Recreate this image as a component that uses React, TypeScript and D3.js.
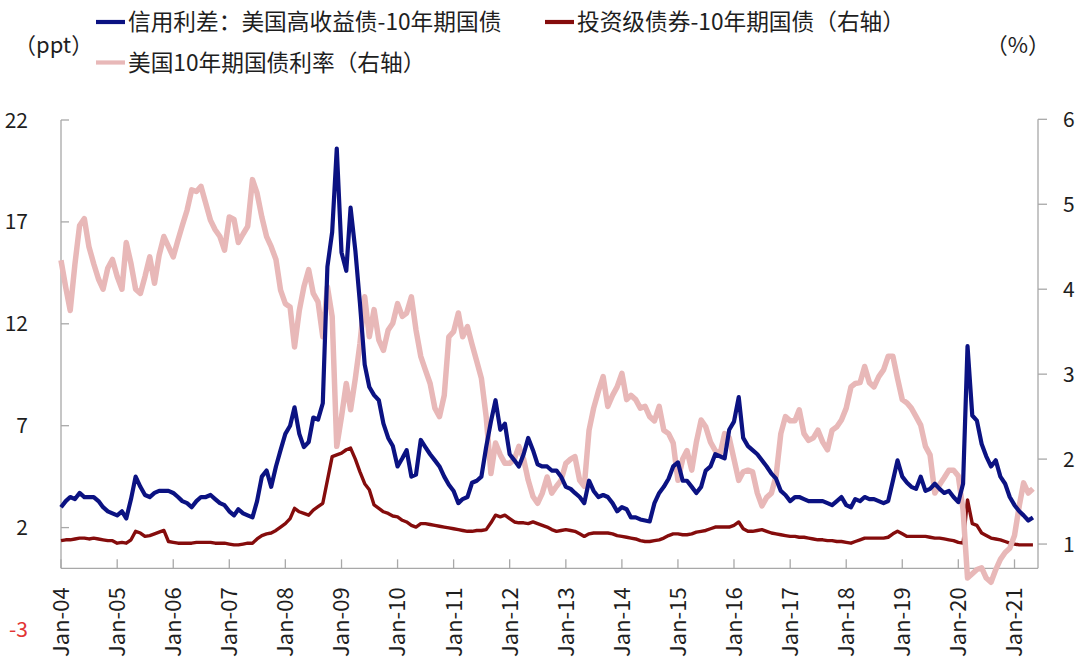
import React from 'react';
import * as d3 from 'd3';

// Monthly observations, Jan-2004 .. May-2021
const months: Date[] = d3.timeMonth.range(new Date(2004, 0, 1), new Date(2021, 5, 1));

const xTickLabels = ['Jan-04','Jan-05','Jan-06','Jan-07','Jan-08','Jan-09','Jan-10','Jan-11','Jan-12','Jan-13','Jan-14','Jan-15','Jan-16','Jan-17','Jan-18','Jan-19','Jan-20','Jan-21'];
const leftTicks = [22, 17, 12, 7, 2];
const leftMinLabel = -3;
const rightTicks = [6, 5, 4, 3, 2, 1];

// 信用利差：美国高收益债-10年期国债 (ppt, left axis)
const hySpread = [
  3.0, 3.3, 3.5, 3.4, 3.7, 3.5, 3.5, 3.5, 3.3, 3.0, 2.8, 2.7,
  2.6, 2.8, 2.45, 3.4, 4.5, 4.0, 3.6, 3.5, 3.7, 3.8, 3.8, 3.8,
  3.7, 3.5, 3.3, 3.2, 3.0, 3.3, 3.5, 3.5, 3.6, 3.4, 3.2, 3.1,
  2.8, 2.6, 2.9, 2.7, 2.6, 2.5, 3.3, 4.5, 4.8, 4.0, 5.0, 5.8,
  6.6, 7.0, 7.9, 6.6, 5.95, 6.2, 7.4, 7.3, 8.1, 14.8, 16.5, 20.6,
  15.5, 14.6, 17.7, 15.6, 13.0, 10.0, 8.9, 8.5, 8.25, 7.1, 6.4, 6.0,
  5.0, 5.4, 5.8, 4.5, 4.6, 6.3, 5.95, 5.6, 5.3, 5.0, 4.5, 4.1,
  3.8, 3.2, 3.4, 3.5, 4.2, 4.3, 4.5, 5.95, 7.2, 8.25, 6.8, 7.1,
  5.6, 5.3, 5.0, 5.6, 6.4, 5.8, 5.1, 5.0, 5.0, 4.8, 4.8, 4.5,
  4.0, 3.9, 3.7, 3.5, 3.2, 4.3, 3.8, 3.5, 3.6, 3.5, 3.2, 2.8,
  3.0, 2.9, 2.5, 2.5, 2.4, 2.35, 2.3, 3.2, 3.7, 4.0, 4.4, 5.0,
  5.2, 4.3, 4.3, 4.0, 3.7, 4.0, 4.8, 5.0, 5.6, 5.5, 5.4, 6.8,
  7.2, 8.4, 6.4, 6.0, 5.8, 5.6, 5.3, 5.0, 4.65, 4.4, 3.8, 3.6,
  3.3, 3.5, 3.5, 3.4, 3.3, 3.3, 3.3, 3.3, 3.2, 3.1, 3.3, 3.5,
  3.1, 3.0, 3.4, 3.3, 3.5, 3.4, 3.4, 3.3, 3.2, 3.3, 4.3, 5.3,
  4.5, 4.2, 4.0, 3.9, 4.5, 3.8, 3.9, 4.15, 3.9, 3.7, 3.8, 3.5,
  3.25, 4.15, 10.9, 7.5, 7.25, 6.1, 5.5, 5.0, 5.3, 4.5, 4.15, 3.5,
  3.1, 2.8, 2.6, 2.35, 2.5,
];

// 投资级债券-10年期国债（右轴）
const igSpread = [
  1.04, 1.05, 1.05, 1.06, 1.07, 1.07, 1.06, 1.07, 1.06, 1.05, 1.04, 1.04,
  1.01, 1.02, 1.01, 1.05, 1.15, 1.13, 1.09, 1.10, 1.12, 1.14, 1.16, 1.03,
  1.02, 1.01, 1.01, 1.01, 1.01, 1.02, 1.02, 1.02, 1.02, 1.01, 1.01, 1.01,
  1.0, 0.99, 0.99, 1.0, 1.01, 1.01, 1.06, 1.1, 1.12, 1.13, 1.16, 1.2,
  1.24, 1.3, 1.42, 1.38, 1.36, 1.34, 1.4, 1.44, 1.48, 1.75, 2.03, 2.05,
  2.07, 2.11, 2.13, 2.0, 1.85, 1.71, 1.64, 1.46, 1.42, 1.38, 1.36, 1.33,
  1.32, 1.28, 1.26, 1.22, 1.2, 1.24, 1.24, 1.23, 1.22, 1.21, 1.2, 1.19,
  1.18, 1.17, 1.16, 1.15, 1.15, 1.16, 1.16, 1.17, 1.25, 1.34, 1.32, 1.34,
  1.3, 1.26, 1.25, 1.25, 1.24, 1.26, 1.24, 1.22, 1.2, 1.17, 1.15, 1.16,
  1.17, 1.16, 1.15, 1.12, 1.09, 1.12, 1.13, 1.13, 1.13, 1.13, 1.12, 1.1,
  1.09, 1.08, 1.07, 1.06, 1.04, 1.03, 1.03, 1.04, 1.05, 1.07, 1.1, 1.12,
  1.12, 1.11, 1.11, 1.12, 1.14, 1.15, 1.16, 1.18, 1.2, 1.2, 1.2, 1.2,
  1.22, 1.26, 1.18, 1.15, 1.15, 1.16, 1.17, 1.15, 1.13, 1.12, 1.11, 1.1,
  1.09, 1.09, 1.08, 1.08, 1.07, 1.06, 1.05, 1.05, 1.04, 1.04, 1.03, 1.03,
  1.02, 1.01, 1.03, 1.05, 1.07, 1.07, 1.07, 1.07, 1.07, 1.08, 1.12, 1.15,
  1.12, 1.09, 1.09, 1.09, 1.09, 1.09, 1.08, 1.07, 1.07, 1.06, 1.05, 1.04,
  1.02, 1.01, 1.52, 1.24, 1.22, 1.13, 1.1, 1.07, 1.06, 1.05, 1.03, 1.01,
  1.0, 0.99, 0.99, 0.99, 0.99,
];

// 美国10年期国债利率（右轴）
const ust10y = [
  4.34, 4.02, 3.75, 4.3, 4.75, 4.83, 4.5, 4.3, 4.12, 4.0, 4.25, 4.35,
  4.15, 4.0, 4.55, 4.3, 4.0, 3.95, 4.15, 4.38, 4.07, 4.4, 4.62, 4.5,
  4.38, 4.58, 4.75, 4.93, 5.17, 5.15, 5.21, 5.01, 4.81, 4.7, 4.62, 4.46,
  4.85, 4.82, 4.55, 4.65, 4.74, 5.29, 5.13, 4.85, 4.62, 4.5, 4.35, 3.99,
  3.83, 3.79, 3.32, 3.75, 4.03, 4.23, 3.95, 3.85, 3.44, 4.03, 3.68, 2.15,
  2.5, 2.89, 2.58, 2.95, 3.36, 3.91, 3.44, 3.76, 3.4, 3.28, 3.52, 3.6,
  3.83, 3.68, 3.72, 3.91, 3.52, 3.21, 3.05, 2.89, 2.6, 2.5, 2.75, 3.44,
  3.5, 3.72, 3.44, 3.56, 3.35, 3.15, 2.95, 2.5, 1.83, 2.19, 2.05, 1.95,
  1.95, 2.0, 2.15, 2.0, 1.75, 1.56, 1.48, 1.6, 1.79, 1.6, 1.68, 1.75,
  1.95, 2.0, 2.03, 1.75, 1.68, 2.34, 2.6, 2.8, 2.97, 2.62, 2.75, 2.85,
  3.01, 2.7, 2.75, 2.7, 2.6, 2.62, 2.5, 2.45, 2.62, 2.34, 2.3, 2.19,
  1.75, 2.0, 2.1, 1.87, 2.2, 2.46, 2.38, 2.2, 2.1, 2.05, 2.3, 2.25,
  2.0, 1.75, 1.85, 1.87, 1.85, 1.6, 1.45, 1.55, 1.6, 1.8, 2.3, 2.5,
  2.45, 2.45, 2.58, 2.3, 2.22, 2.25, 2.34, 2.2, 2.11, 2.34, 2.38, 2.46,
  2.6, 2.85, 2.89, 2.9, 3.09, 2.9, 2.85, 2.97, 3.05, 3.21, 3.21, 2.95,
  2.7, 2.66, 2.6, 2.5, 2.4, 2.15, 2.05, 1.6, 1.7, 1.78, 1.87, 1.87,
  1.8, 1.4, 0.6, 0.65, 0.7, 0.72, 0.6, 0.55, 0.7, 0.82, 0.9, 0.95,
  1.1, 1.45, 1.72, 1.6, 1.65,
];

const legendItems = [
  { label: '信用利差：美国高收益债-10年期国债', color: '#0b1282', row: 0, x: 96 },
  { label: '投资级债券-10年期国债（右轴）', color: '#850c0c', row: 0, x: 545 },
  { label: '美国10年期国债利率（右轴）', color: '#e8b8b8', row: 1, x: 96 },
];

const FONT = '"Noto Sans CJK SC", "Noto Sans", sans-serif';

export default function App() {
  const W = 1080;
  const H = 663;
  const x = d3.scaleTime().domain([new Date(2004, 0, 1), new Date(2021, 5, 3)]).range([61, 1038]);
  const yL = d3.scaleLinear().domain([-3, 22]).range([629.5, 120]);
  const yR = d3.scaleLinear().domain([0, 6]).range([629, 119.3]);
  const axisY = yL(0);

  const lineL = d3.line<number>().x((_, i) => x(months[i])).y((d) => yL(d));
  const lineR = d3.line<number>().x((_, i) => x(months[i])).y((d) => yR(d));

  const axisColor = '#a8a8a8';
  const textColor = '#1e1e1e';
  const tickDates = xTickLabels.map((_, i) => new Date(2004 + i, 0, 1));

  return (
    <svg width={W} height={H} style={{ position: 'absolute', left: 0, top: 0, background: '#fff' }} fontFamily={FONT}>
      <rect x={0} y={0} width={W} height={H} fill="#fff" />
      {/* left axis */}
      <line x1={61} x2={61} y1={yL(22)} y2={axisY} stroke={axisColor} strokeWidth={1.3} />
      {leftTicks.map((t) => (
        <g key={'l' + t}>
          <line x1={61} x2={69} y1={yL(t)} y2={yL(t)} stroke={axisColor} strokeWidth={1.3} />
          <text x={28} y={yL(t)} dy="0.36em" textAnchor="end" fontSize={21} fill={textColor}>{t}</text>
        </g>
      ))}
      <text x={28} y={yL(leftMinLabel)} dy="0.36em" textAnchor="end" fontSize={21} fill="#e23434">{leftMinLabel}</text>
      {/* right axis */}
      <line x1={1038} x2={1038} y1={yR(6)} y2={axisY} stroke={axisColor} strokeWidth={1.3} />
      {rightTicks.map((t) => (
        <g key={'r' + t}>
          <line x1={1038} x2={1047} y1={yR(t)} y2={yR(t)} stroke={axisColor} strokeWidth={1.3} />
          <text x={1063} y={yR(t)} dy="0.36em" textAnchor="start" fontSize={21} fill={textColor}>{t}</text>
        </g>
      ))}
      {/* x axis */}
      <line x1={61} x2={1038} y1={axisY} y2={axisY} stroke={axisColor} strokeWidth={1.3} />
      {tickDates.map((d, i) => (
        <g key={'x' + i}>
          <line x1={x(d)} x2={x(d)} y1={axisY} y2={axisY - 9} stroke={axisColor} strokeWidth={1.3} />
          <text
            transform={`translate(${x(d)},${axisY + 19}) rotate(-90)`}
            dy="0.36em"
            textAnchor="end"
            fontSize={22}
            fill={textColor}
          >
            {xTickLabels[i]}
          </text>
        </g>
      ))}
      {/* series */}
      <path d={lineR(igSpread) || ''} fill="none" stroke="#850c0c" strokeWidth={3.4} strokeLinejoin="round" />
      <path d={lineR(ust10y) || ''} fill="none" stroke="#e8b8b8" strokeWidth={5.5} strokeLinejoin="round" />
      <path d={lineL(hySpread) || ''} fill="none" stroke="#0b1282" strokeWidth={4.2} strokeLinejoin="round" />
      {/* unit labels */}
      <text x={14} y={45} dy="0.36em" fontSize={22} fill={textColor}>（ppt）</text>
      <text x={1050} y={45} dy="0.36em" textAnchor="end" fontSize={22} fill={textColor}>（%）</text>
      {/* legend */}
      {legendItems.map((it) => {
        const cy = it.row === 0 ? 22 : 62.5;
        return (
          <g key={it.label}>
            <line x1={it.x} x2={it.x + 29} y1={cy} y2={cy} stroke={it.color} strokeWidth={4.2} />
            <text x={it.x + 32} y={cy} dy="0.36em" fontSize={22.7} fill={textColor}>{it.label}</text>
          </g>
        );
      })}
    </svg>
  );
}
